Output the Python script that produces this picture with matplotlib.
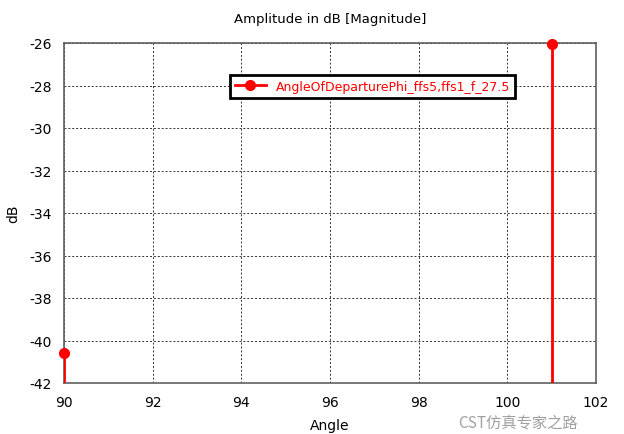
import numpy as np
import matplotlib.pyplot as plt

angles = [90, 101]
amplitude_db = [-40.6, -26.05]
series_name = "AngleOfDeparturePhi_ffs5,ffs1_f_27.5"
x_ticks = [90, 92, 94, 96, 98, 100, 102]
y_ticks = [-42, -40, -38, -36, -34, -32, -30, -28, -26]

plt.rcParams["font.family"] = ["DejaVu Sans", "Noto Sans CJK SC"]
plt.rcParams["axes.unicode_minus"] = False

fig = plt.figure(figsize=(6.24, 4.35), dpi=100)
ax = fig.add_axes([64 / 624, 1 - 384 / 435, 532 / 624, 340 / 435])

ax.vlines(angles, -42, amplitude_db, color="red", lw=2, zorder=3)
ax.plot(angles, amplitude_db, "o", color="red", ms=7, zorder=4, clip_on=False)
# proxy for the legend: line with marker
ax.plot([], [], "-o", color="red", lw=2, ms=7, label=series_name)

ax.set_xlim(90, 102)
ax.set_ylim(-42, -26)
ax.set_xticks(x_ticks)
ax.set_yticks(y_ticks)
ax.grid(True, color="#303030", linestyle=(0, (2, 2)), lw=0.7)
ax.tick_params(length=0, labelsize=10, pad=9)
for s in ax.spines.values():
    s.set_color("#606060")
    s.set_linewidth(1.2)

ax.set_title("Amplitude in dB [Magnitude]", fontsize=9.5, pad=15)
ax.set_xlabel("Angle", fontsize=10, labelpad=6)
ax.set_ylabel("dB", fontsize=10, labelpad=6)

leg = ax.legend(loc="upper left", bbox_to_anchor=(0.30, 0.925), fancybox=False,
                framealpha=1, edgecolor="black", fontsize=9, handlelength=2.5,
                borderpad=0.4)
leg.get_frame().set_linewidth(2)
for t in leg.get_texts():
    t.set_color("red")

fig.text(0.83, 0.028, "CST仿真专家之路", fontsize=11, color="#888888", alpha=0.8,
         family=["Noto Sans CJK SC", "DejaVu Sans"], ha="center", va="center")

fig.savefig("out.png", dpi=100)
